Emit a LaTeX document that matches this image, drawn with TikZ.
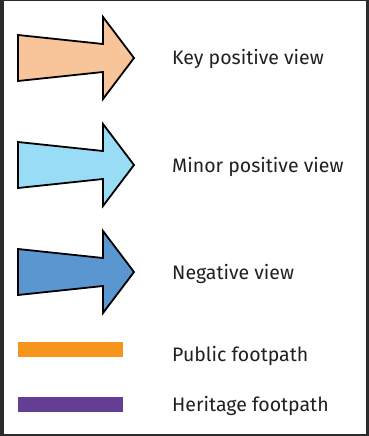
\documentclass[tikz,border=0pt]{standalone}
\usepackage{fontspec}
\setmainfont{Fira Sans}
\usepackage{xcolor}
\definecolor{keypeach}{HTML}{F8C49A}
\definecolor{minorblue}{HTML}{98DCF5}
\definecolor{negblue}{HTML}{5A96D0}
\definecolor{pathorange}{HTML}{F7941E}
\definecolor{pathpurple}{HTML}{643E95}
\definecolor{frame}{HTML}{2B2B2B}
\definecolor{legendgrey}{HTML}{231F20}

\begin{document}
\begin{tikzpicture}[x=1pt,y=-1pt,
    viewarrow/.style={draw=black,line width=1.8pt,line join=miter},
    legendtext/.style={anchor=base west,inner sep=0pt,text=legendgrey,font=\fontsize{19.5}{22}\selectfont}]
  \useasboundingbox (0,0) rectangle (369,436);
  % frame
  \fill[frame] (0,0) rectangle (369,436);
  \fill[white] (3.5,1.2) rectangle (366,434);

  % view arrows
  \foreach \cy/\col in {58/keypeach,165/minorblue,272/negblue}
    \draw[viewarrow,fill=\col] (18,\cy-23) -- (103,\cy-14) -- (103,\cy-41)
      -- (134,\cy) -- (103,\cy+41) -- (103,\cy+14) -- (18,\cy+23) -- cycle;

  \node[legendtext] (key) at (172,64.5) {Key positive view};
  \node[legendtext] (minor) at (172,172) {Minor positive view};
  \node[legendtext] (neg) at (172,279) {Negative view};

  % footpaths
  \fill[pathorange] (18,342) rectangle (123,357);
  \fill[pathpurple] (18,397) rectangle (123,412);
  \node[legendtext] (public) at (172,361) {Public footpath};
  \node[legendtext] (heritage) at (172,411.5) {Heritage footpath};

\end{tikzpicture}
\end{document}
